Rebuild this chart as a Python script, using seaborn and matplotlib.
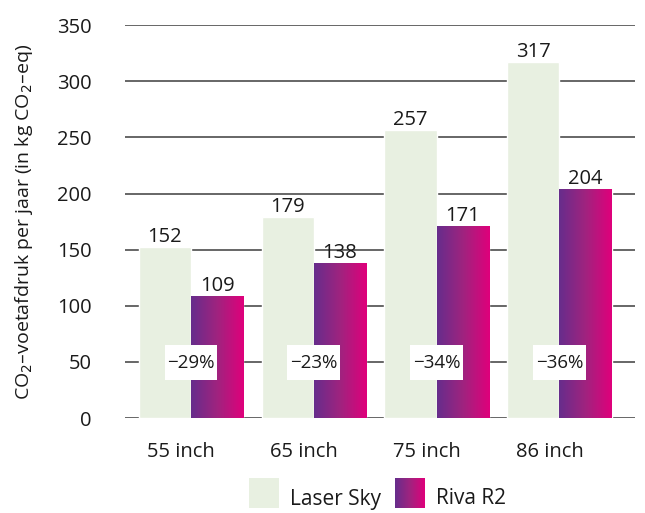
import matplotlib
matplotlib.use("Agg")
import matplotlib.pyplot as plt
import matplotlib.transforms as mtransforms
import seaborn as sns
import pandas as pd
import numpy as np
from matplotlib.colors import LinearSegmentedColormap
from matplotlib.patches import Rectangle

sizes = ["55 inch", "65 inch", "75 inch", "86 inch"]
laser_sky = [152, 179, 257, 317]
riva_r2 = [109, 138, 171, 204]
reductions = ["\u221229%", "\u221223%", "\u221234%", "\u221236%"]
series = ["Laser Sky", "Riva R2"]

df = pd.DataFrame({
    "size": sizes * 2,
    "value": laser_sky + riva_r2,
    "series": [series[0]] * 4 + [series[1]] * 4,
})

sns.set_theme(style="white")
plt.rcParams["font.family"] = ["Open Sans", "DejaVu Sans"]

fig = plt.figure(figsize=(6.45, 5.13), dpi=100)
ax = fig.add_axes([0.194, 0.185, 0.791, 0.766])

green = "#e8f0e1"
grad = LinearSegmentedColormap.from_list("g", ["#662d8c", "#a0237f", "#e0007b"])

sns.barplot(data=df, x="size", y="value", hue="series", order=sizes,
            hue_order=series, palette=[green, "#a0237f"], width=0.85,
            dodge=True, legend=False, ax=ax, zorder=2, saturation=1)

ax.set_ylim(0, 350)
ax.set_xlim(-0.537, 3.618)
ax.set_yticks(range(0, 351, 50))
ax.yaxis.grid(True, color="#5a5a5a", linewidth=1.3, zorder=0)
ax.set_axisbelow(True)
for s in ax.spines.values():
    s.set_visible(False)
ax.tick_params(axis="y", length=0, pad=24, labelsize=14.5, labelcolor="#1a1a1a")
ax.tick_params(axis="x", length=0, pad=17, labelsize=14.5, labelcolor="#1a1a1a")
offset = mtransforms.ScaledTranslation(-10 / 100, 0, fig.dpi_scale_trans)
for lbl in ax.get_xticklabels():
    lbl.set_transform(lbl.get_transform() + offset)
ax.set_xlabel("")
ax.set_ylabel("CO$_2$\u2013voetafdruk per jaar (in kg CO$_2$\u2013eq)", fontsize=14,
              color="#1a1a1a", labelpad=16)

gimg = np.linspace(0, 1, 256).reshape(1, -1)
patches = list(ax.patches)
for p in patches:
    h = p.get_height()
    x0 = p.get_x()
    w = p.get_width()
    fc = p.get_facecolor()
    is_riva = abs(fc[0] - 0xa0 / 255) < 0.02 and abs(fc[2] - 0x7f / 255) < 0.02
    if is_riva:
        im = ax.imshow(gimg, cmap=grad, aspect="auto", extent=[x0, x0 + w, 0, h],
                       zorder=2.5, interpolation="bilinear")
        im.set_clip_path(p)
    ax.text(x0 + w / 2, h, f"{h:.0f}", ha="center", va="bottom",
            fontsize=14.5, color="#1a1a1a", zorder=4)

box_w, box_h, box_y = 0.43, 31, 49.5
for i, r in enumerate(reductions):
    ax.add_patch(Rectangle((i - box_w / 2, box_y - box_h / 2), box_w, box_h,
                           facecolor="white", edgecolor="none", zorder=4.5))
    ax.text(i, box_y, r, ha="center", va="center", fontsize=13.5, color="#1a1a1a",
            zorder=5)

ax.set_xlim(-0.537, 3.618)
ax.set_ylim(0, 350)

# legend
lx = fig.add_axes([0, 0, 1, 1], facecolor="none")
lx.set_axis_off()
lx.set_xlim(0, 645)
lx.set_ylim(513, 0)
lx.add_patch(Rectangle((249, 478), 30, 30, facecolor=green, edgecolor="none"))
lx.imshow(gimg, cmap=grad, aspect="auto", extent=[395, 425, 508, 478], interpolation="bilinear")
lx.text(290, 499, series[0], fontsize=15, va="center", ha="left", color="#1a1a1a")
lx.text(436, 499, series[1], fontsize=15, va="center", ha="left", color="#1a1a1a")
lx.set_xlim(0, 645)
lx.set_ylim(513, 0)

fig.savefig("out.png", dpi=100)
